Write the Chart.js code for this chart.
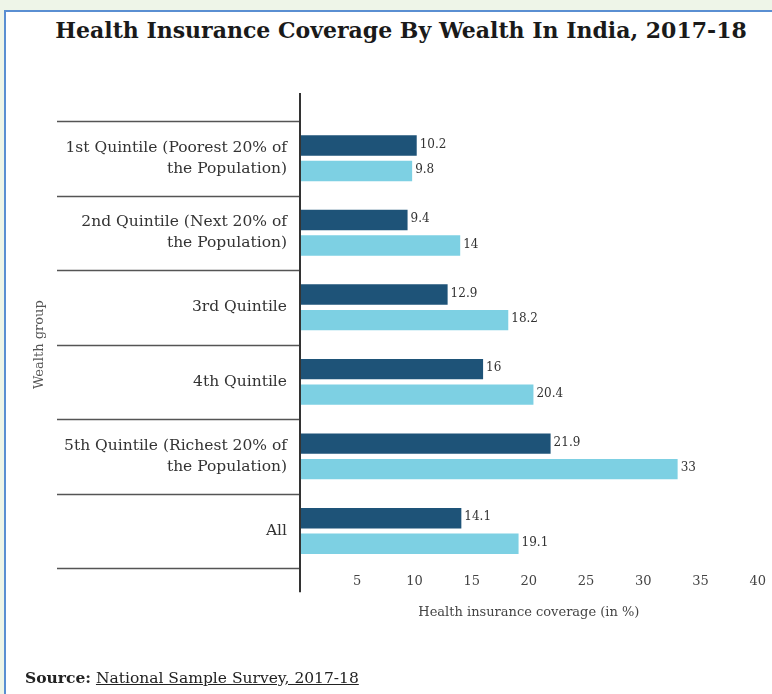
<!DOCTYPE html>
<html>
<head>
<meta charset="utf-8">
<script src="https://cdn.jsdelivr.net/npm/chart.js@4/dist/chart.umd.min.js"></script>
<style>
  html, body { margin: 0; padding: 0; width: 772px; height: 694px; overflow: hidden; background: #eef5e8; }
  #card { position: absolute; left: 4px; top: 10px; width: 766px; height: 682px; background: #ffffff;
          border-left: 2px solid #5a8fd2; border-top: 2px solid #5a8fd2; }
  #wrap { position: absolute; left: 0; top: 0; width: 772px; height: 694px; }
  #title { position: absolute; left: 401px; top: 16px; transform: translateX(-50%); white-space: nowrap;
           font-family: "DejaVu Serif", serif; font-weight: bold; font-size: 22px; line-height: 28px; color: #1a1a1a; }
  #source { position: absolute; left: 25px; top: 668px; font-family: "DejaVu Serif", serif; font-size: 15.5px; color: #222; white-space: nowrap; }
  #source b { font-weight: bold; }
  #source span { text-decoration: underline; }
</style>
</head>
<body>
<div id="card"></div>
<div id="title">Health Insurance Coverage By Wealth In India, 2017-18</div>
<div id="wrap"><canvas id="c" width="772" height="694"></canvas></div>
<div id="source"><b>Source:</b> <span>National Sample Survey, 2017-18</span></div>
<script>
const categories = [
  ["1st Quintile (Poorest 20% of", "the Population)"],
  ["2nd Quintile (Next 20% of", "the Population)"],
  "3rd Quintile",
  "4th Quintile",
  ["5th Quintile (Richest 20% of", "the Population)"],
  "All"
];
const ruralValues = [10.2, 9.4, 12.9, 16, 21.9, 14.1];
const urbanValues = [9.8, 14, 18.2, 20.4, 33, 19.1];
const xTicks = [5, 10, 15, 20, 25, 30, 35, 40];

const serif = "'DejaVu Serif', 'Liberation Serif', serif";

const decorPlugin = {
  id: 'decor',
  afterDatasetsDraw(chart) {
    const ctx = chart.ctx;
    const y = chart.scales.y;
    const area = chart.chartArea;
    ctx.save();
    ctx.strokeStyle = '#555';
    ctx.lineWidth = 1.5;
    for (let i = 0; i <= categories.length; i++) {
      const py = Math.round(y.getPixelForValue(i - 0.5)) + 0.5;
      ctx.beginPath();
      ctx.moveTo(57, py);
      ctx.lineTo(area.left, py);
      ctx.stroke();
    }
    ctx.strokeStyle = '#333';
    ctx.lineWidth = 2;
    ctx.beginPath();
    ctx.moveTo(area.left, area.top - 28);
    ctx.lineTo(area.left, area.bottom + 24);
    ctx.stroke();
    ctx.fillStyle = '#333';
    ctx.font = "12px " + serif;
    ctx.textBaseline = 'middle';
    ctx.textAlign = 'left';
    chart.data.datasets.forEach((ds, di) => {
      const meta = chart.getDatasetMeta(di);
      meta.data.forEach((bar, i) => {
        ctx.fillText(String(ds.data[i]), bar.x + 3, bar.y - 1);
      });
    });
    ctx.restore();
  }
};

new Chart(document.getElementById('c'), {
  type: 'bar',
  data: {
    labels: categories,
    datasets: [
      { label: 'Rural', data: ruralValues, backgroundColor: '#1e5378', categoryPercentage: 0.685, barPercentage: 0.8 },
      { label: 'Urban', data: urbanValues, backgroundColor: '#7dd0e3', categoryPercentage: 0.685, barPercentage: 0.8 }
    ]
  },
  options: {
    indexAxis: 'y',
    responsive: false,
    animation: false,
    layout: { padding: { left: 7, right: 14, top: 121, bottom: 74 } },
    plugins: {
      legend: { display: false },
      tooltip: { enabled: false },
      title: { display: false }
    },
    scales: {
      x: {
        min: 0, max: 40,
        afterBuildTicks(scale) { scale.ticks = xTicks.map(v => ({ value: v })); },
        grid: { display: false, drawTicks: false },
        border: { display: false },
        ticks: { color: '#444', font: { family: serif, size: 13 }, padding: 6 },
        title: {
          display: true,
          text: 'Health insurance coverage (in %)',
          color: '#444',
          font: { family: serif, size: 13 },
          padding: { top: 8.6, bottom: 0 }
        }
      },
      y: {
        afterFit(scale) { scale.width = 293; },
        grid: { display: false, drawTicks: false },
        border: { display: false },
        ticks: { color: '#333', font: { family: serif, size: 15.5, lineHeight: 1.36 }, padding: 13 },
        title: {
          display: true,
          text: 'Wealth group',
          color: '#555',
          font: { family: serif, size: 13 },
          padding: { top: 25, bottom: 0 }
        }
      }
    }
  },
  plugins: [decorPlugin]
});
</script>
</body>
</html>
